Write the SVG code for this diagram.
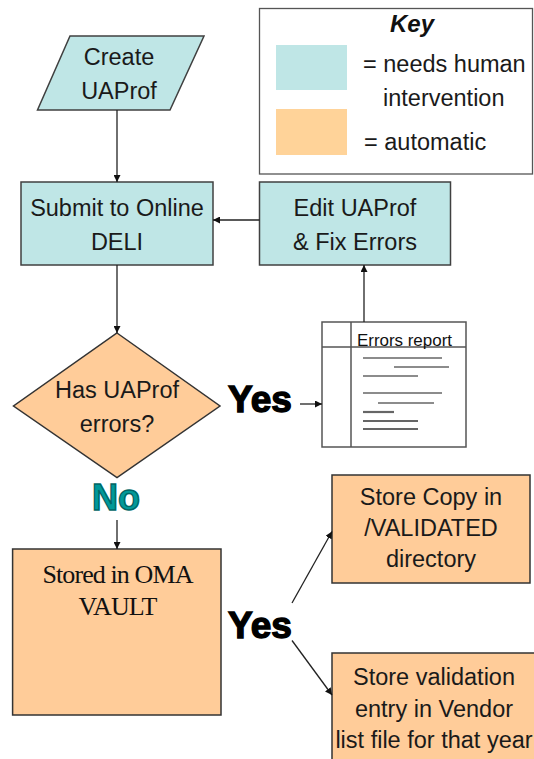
<svg xmlns="http://www.w3.org/2000/svg" width="534" height="759" viewBox="0 0 534 759">
<defs>
<style>
.human{fill:#bfe6e6;stroke:#404040;stroke-width:1.5}
.auto{fill:#ffcc99;stroke:#333;stroke-width:1.5}
.t{font-family:"Liberation Sans",Arial,sans-serif;font-size:23.5px;fill:#1a1a1a;text-anchor:middle}
.serif{font-family:"Liberation Serif","Times New Roman",serif;font-size:26px;letter-spacing:-0.9px;fill:#111;text-anchor:middle}
.big{font-family:"Liberation Sans",Arial,sans-serif;font-weight:bold;font-size:37px;fill:#000;stroke:#000;stroke-width:1.4}
.conn{stroke:#222;stroke-width:1.3;fill:none}
.doc{fill:#fff;stroke:#555;stroke-width:1.5}
.dl{stroke:#666;stroke-width:1.3}
.dlt{stroke:#666;stroke-width:2.2}
</style>
<marker id="ah" viewBox="0 0 10 10" refX="10" refY="5" markerWidth="7" markerHeight="7" markerUnits="userSpaceOnUse" orient="auto">
<path d="M0,0 L10,5 L0,10 z" fill="#111"/>
</marker>
</defs>

<g id="key">
<rect x="259.5" y="8.5" width="273" height="165.5" fill="#fff" stroke="#555" stroke-width="1.3"/>
<text x="412" y="32" style="font-family:'Liberation Sans',Arial,sans-serif;font-size:24px;font-weight:bold;font-style:italic;text-anchor:middle" fill="#111">Key</text>
<rect x="276" y="45" width="71" height="45" fill="#bfe6e6"/>
<rect x="276" y="109" width="71" height="46" fill="#ffd399"/>
<text x="363" y="71.5" style="font-family:'Liberation Sans',Arial,sans-serif;font-size:23.5px" fill="#1a1a1a">= needs human</text>
<text x="383" y="105.5" style="font-family:'Liberation Sans',Arial,sans-serif;font-size:23.5px" fill="#1a1a1a">intervention</text>
<text x="364" y="150" style="font-family:'Liberation Sans',Arial,sans-serif;font-size:23.5px" fill="#1a1a1a">= automatic</text>
</g>

<g id="create">
<polygon class="human" points="70,36 204,36 170,110 37.5,110"/>
<text class="t" x="119" y="65">Create</text>
<text class="t" x="119" y="99">UAProf</text>
</g>

<g id="submit">
<rect class="human" x="21" y="182" width="192" height="83"/>
<text class="t" x="117" y="216">Submit to Online</text>
<text class="t" x="117" y="250">DELI</text>
</g>

<g id="edit">
<rect class="human" x="259.5" y="182" width="191" height="83"/>
<text class="t" x="355" y="216">Edit UAProf</text>
<text class="t" x="355" y="250">&amp; Fix Errors</text>
</g>

<g id="decision">
<polygon class="auto" points="117,333 220,406 117,477.5 13.5,406"/>
<text class="t" x="117" y="397.5">Has UAProf</text>
<text class="t" x="117" y="431.5">errors?</text>
</g>

<g id="errors-report">
<rect class="doc" x="322" y="322" width="144" height="125"/>
<line class="doc" x1="351" y1="322" x2="351" y2="447"/>
<line class="doc" x1="322" y1="347" x2="466" y2="347"/>
<text x="357" y="346" style="font-family:'Liberation Sans',Arial,sans-serif;font-size:17px" fill="#111" textLength="95">Errors report</text>
<line class="dl" x1="363" y1="358" x2="442" y2="358"/>
<line class="dl" x1="394" y1="367" x2="449" y2="367"/>
<line class="dl" x1="363" y1="376" x2="418" y2="376"/>
<line class="dl" x1="363" y1="393" x2="442" y2="393"/>
<line class="dl" x1="378" y1="403" x2="434" y2="403"/>
<line class="dlt" x1="363" y1="412" x2="394" y2="412"/>
<line class="dlt" x1="363" y1="421" x2="418" y2="421"/>
<line class="dlt" x1="363" y1="429" x2="418" y2="429"/>
</g>

<g id="vault">
<rect class="auto" x="12.6" y="549" width="208.4" height="166"/>
<text class="serif" x="117.5" y="582.5">Stored in OMA</text>
<text class="serif" x="117.5" y="615">VAULT</text>
</g>

<g id="store-copy">
<rect class="auto" x="332" y="475" width="198" height="108"/>
<text class="t" x="431" y="505">Store Copy in</text>
<text class="t" x="431" y="536">/VALIDATED</text>
<text class="t" x="431" y="567">directory</text>
</g>

<g id="store-entry">
<rect class="auto" x="332" y="653" width="210" height="120"/>
<text class="t" x="434" y="685">Store validation</text>
<text class="t" x="434" y="717">entry in Vendor</text>
<text class="t" x="434" y="748">list file for that year</text>
</g>

<g id="connectors">
<line class="conn" x1="117" y1="110" x2="117" y2="182" marker-end="url(#ah)"/>
<line class="conn" x1="259.5" y1="220" x2="213" y2="220" marker-end="url(#ah)"/>
<line class="conn" x1="117" y1="265" x2="117" y2="333" marker-end="url(#ah)"/>
<line class="conn" x1="364" y1="322" x2="364" y2="265" marker-end="url(#ah)"/>
<line class="conn" x1="300" y1="404" x2="322" y2="404" marker-end="url(#ah)"/>
<line class="conn" x1="117" y1="520" x2="117" y2="549" marker-end="url(#ah)"/>
<line class="conn" x1="292" y1="603" x2="332" y2="531.5" marker-end="url(#ah)"/>
<line class="conn" x1="292" y1="640.5" x2="332" y2="695" marker-end="url(#ah)"/>
<text class="big" x="228" y="412">Yes</text>
<text class="big" x="92" y="510" style="font-size:36px;fill:#009999;stroke:#006666">No</text>
<text class="big" x="228" y="638">Yes</text>
</g>
</svg>
